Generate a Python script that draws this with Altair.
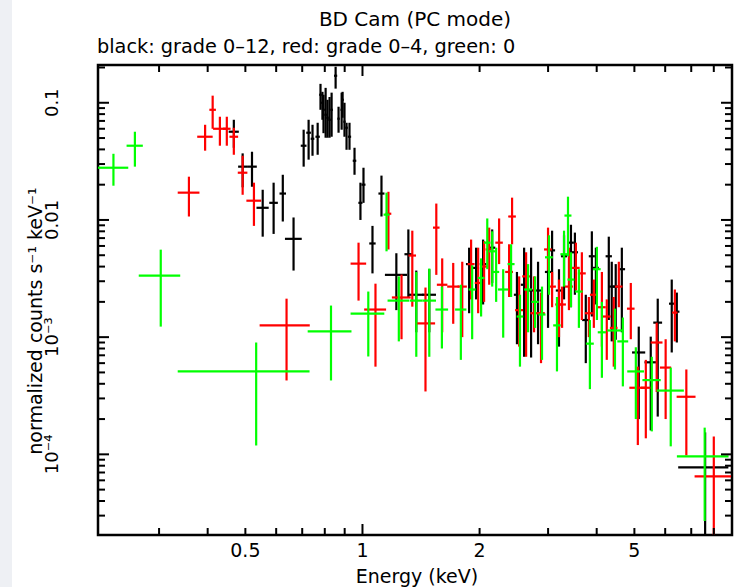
import altair as alt
import pandas as pd

# ---------------- data ----------------
black_e = [0.467, 0.492, 0.52, 0.554, 0.591, 0.624, 0.665, 0.706, 0.727, 0.744, 0.767,
           0.78, 0.789, 0.794, 0.804, 0.813, 0.823, 0.833, 0.853, 0.868, 0.884, 0.889,
           0.899, 0.91, 0.926, 0.954, 0.988, 1.006, 1.061, 1.119, 1.222, 1.312, 1.375,
           1.485, 1.88, 1.959, 2.042, 2.155, 2.495, 2.603, 2.713, 2.827, 2.999, 3.072,
           3.2, 3.297, 3.435, 3.516, 3.75, 3.887, 3.981, 4.297, 4.373, 4.477, 4.642,
           5.131, 5.508, 5.741, 6.237, 6.427, 7.6]
black_de = [0.014, 0.013, 0.015, 0.02, 0.015, 0.012, 0.033, 0.012, 0.01, 0.008, 0.01,
            0.006, 0.006, 0.006, 0.006, 0.006, 0.006, 0.006, 0.008, 0.006, 0.006, 0.006,
            0.006, 0.007, 0.009, 0.01, 0.012, 0.012, 0.02, 0.02, 0.08, 0.03, 0.06,
            0.06, 0.035, 0.035, 0.04, 0.04, 0.045, 0.05, 0.05, 0.05, 0.055, 0.055,
            0.06, 0.06, 0.06, 0.065, 0.08, 0.07, 0.07, 0.08, 0.08, 0.08, 0.09,
            0.2, 0.2, 0.15, 0.1, 0.1, 1.12]
black_y = [0.0566, 0.0285, 0.0285, 0.0127, 0.014, 0.0168, 0.0069, 0.043, 0.0555, 0.0493, 0.0513,
           0.117, 0.1, 0.0871, 0.079, 0.0745, 0.0716, 0.0871, 0.17, 0.0731, 0.0871, 0.106,
           0.0689, 0.0612, 0.0513, 0.032, 0.014, 0.02, 0.0063, 0.0168, 0.0034, 0.0051, 0.0023,
           0.0023, 0.0042, 0.0039, 0.0042, 0.0058, 0.0023, 0.0028, 0.0025, 0.0025, 0.0036, 0.0055,
           0.0025, 0.0049, 0.0064, 0.0053, 0.0014, 0.0049, 0.0039, 0.0049, 0.0027, 0.0027, 0.0038,
           0.00074, 0.00061, 0.00133, 0.00193, 0.00165, 0.0000773]
black_lo = [0.0413, 0.019, 0.0192, 0.0072, 0.0076, 0.0097, 0.0037, 0.0285, 0.0327, 0.0353, 0.036,
            0.0871, 0.0716, 0.055, 0.0503, 0.0503, 0.0503, 0.0513, 0.132, 0.0555, 0.0589, 0.0745,
            0.0513, 0.0397, 0.0397, 0.0243, 0.01, 0.014, 0.0035, 0.0107, 0.0017, 0.0022, 0.0011,
            0.0011, 0.0016, 0.0021, 0.0019, 0.0029, 0.00087, 0.00068, 0.00067, 0.00087, 0.0012, 0.0028,
            0.00083, 0.0021, 0.0018, 0.0023, 0.0006, 0.0015, 0.0019, 0.0014, 0.00092, 0.00095, 0.0011,
            0.0002, 0.00016, 0.00021, 0.00074, 0.0009, 0.00001]
black_hi = [0.0716, 0.037, 0.0382, 0.0181, 0.0208, 0.0243, 0.0105, 0.0589, 0.0716, 0.0649, 0.0675,
            0.145, 0.124, 0.117, 0.134, 0.106, 0.112, 0.122, 0.203, 0.0925, 0.122, 0.124,
            0.1, 0.0675, 0.0675, 0.0413, 0.0208, 0.0279, 0.0089, 0.0239, 0.0052, 0.0083, 0.0037,
            0.0038, 0.0058, 0.0058, 0.0068, 0.0083, 0.0036, 0.0058, 0.0058, 0.0044, 0.0056, 0.0081,
            0.0038, 0.0074, 0.0091, 0.0078, 0.0023, 0.008, 0.0058, 0.0072, 0.0044, 0.0042, 0.0058,
            0.00123, 0.00101, 0.00213, 0.0031, 0.0024, 0.000154]

red_e = [0.358, 0.394, 0.412, 0.43, 0.448, 0.467, 0.492, 0.526, 0.638, 0.977, 1.08,
         1.166, 1.26, 1.343, 1.452, 1.548, 1.603, 1.711, 1.805, 1.902, 1.983, 2.054,
         2.117, 2.245, 2.382, 2.424, 2.528, 2.634, 2.761, 2.877, 2.999, 3.072, 3.2,
         3.259, 3.394, 3.537, 3.664, 3.819, 3.933, 4.125, 4.246, 4.425, 4.56, 4.895,
         5.103, 5.35, 5.705, 6.016, 6.353, 6.8, 8.0]
red_de = [0.023, 0.018, 0.008, 0.017, 0.01, 0.012, 0.014, 0.023, 0.094, 0.045, 0.07,
          0.02, 0.07, 0.03, 0.085, 0.03, 0.05, 0.06, 0.05, 0.04, 0.04, 0.045,
          0.045, 0.05, 0.055, 0.055, 0.06, 0.06, 0.06, 0.065, 0.07, 0.07, 0.07,
          0.075, 0.08, 0.08, 0.085, 0.09, 0.09, 0.095, 0.1, 0.1, 0.1, 0.11,
          0.25, 0.15, 0.2, 0.2, 0.1, 0.38, 0.86]
red_y = [0.0171, 0.0513, 0.0871, 0.06, 0.06, 0.0513, 0.0253, 0.0146, 0.00126, 0.00424, 0.00172,
         0.0113, 0.00218, 0.00497, 0.00131, 0.0086, 0.0028, 0.0027, 0.0027, 0.0042, 0.0029, 0.004,
         0.0056, 0.0064, 0.0036, 0.0107, 0.0017, 0.0033, 0.0016, 0.0016, 0.0056, 0.0027, 0.0019,
         0.0019, 0.0027, 0.0039, 0.0035, 0.0016, 0.0023, 0.0018, 0.0015, 0.0012, 0.0027, 0.00175,
         0.00037, 0.00037, 0.0009, 0.00055, 0.00162, 0.00031, 0.0000648]
red_lo = [0.0107, 0.039, 0.06, 0.043, 0.043, 0.036, 0.0164, 0.0089, 0.000427, 0.00205, 0.00056,
          0.0056, 0.00096, 0.00182, 0.000344, 0.0034, 0.0011, 0.0013, 0.001, 0.0021, 0.0016, 0.002,
          0.0028, 0.0042, 0.0022, 0.0062, 0.00083, 0.00068, 0.0011, 0.0006, 0.0037, 0.0018, 0.001,
          0.0012, 0.0017, 0.0025, 0.0014, 0.001, 0.0012, 0.00083, 0.00064, 0.00056, 0.0018, 0.00096,
          0.00012, 0.000137, 0.00034, 0.0002, 0.00092, 0.000098, 0.00001]
red_hi = [0.0234, 0.0649, 0.115, 0.076, 0.076, 0.0612, 0.0353, 0.0208, 0.00213, 0.0064, 0.00286,
          0.0174, 0.00342, 0.0081, 0.00265, 0.0138, 0.0047, 0.0043, 0.0044, 0.0068, 0.0058, 0.0066,
          0.0086, 0.0103, 0.0062, 0.0155, 0.0033, 0.0053, 0.0033, 0.0024, 0.0086, 0.0036, 0.0031,
          0.0027, 0.0058, 0.0064, 0.0053, 0.0022, 0.0031, 0.0036, 0.0021, 0.0022, 0.0044, 0.0029,
          0.00056, 0.00064, 0.00133, 0.00096, 0.00255, 0.00053, 0.000142]

green_e = [0.229, 0.26, 0.303, 0.533, 0.83, 1.035, 1.153, 1.24, 1.375, 1.485, 1.6,
           1.79, 1.914, 2.018, 2.093, 2.155, 2.206, 2.30, 2.41, 2.54, 2.665, 2.778,
           2.894, 3.016, 3.162, 3.297, 3.375, 3.435, 3.6, 3.842, 4.005, 4.125, 4.457,
           4.67, 5.043, 5.543, 6.2, 7.58]
green_de = [0.021, 0.0125, 0.037, 0.198, 0.107, 0.103, 0.02, 0.08, 0.05, 0.06, 0.06,
            0.06, 0.04, 0.04, 0.04, 0.04, 0.04, 0.07, 0.05, 0.05, 0.06, 0.06,
            0.06, 0.07, 0.07, 0.07, 0.07, 0.07, 0.08, 0.09, 0.09, 0.1, 0.2,
            0.15, 0.25, 0.3, 0.5, 1.15]
green_y = [0.0279, 0.043, 0.00335, 0.00051, 0.00112, 0.00159, 0.0111, 0.00205, 0.00205, 0.00205, 0.00172,
           0.00172, 0.00255, 0.0032, 0.0064, 0.0054, 0.0036, 0.00255, 0.0042, 0.0015, 0.00255, 0.002,
           0.00156, 0.0048, 0.00126, 0.0051, 0.0109, 0.0031, 0.00245, 0.00088, 0.0038, 0.0011, 0.00114,
           0.00092, 0.00051, 0.00043, 0.00035, 0.000096]
green_lo = [0.0196, 0.0285, 0.00123, 0.000119, 0.000427, 0.000684, 0.0054, 0.00092, 0.00068, 0.00068, 0.0008,
            0.00064, 0.00096, 0.0015, 0.0038, 0.0027, 0.002, 0.00099, 0.0022, 0.00056, 0.0011, 0.0012,
            0.00064, 0.0023, 0.00051, 0.0027, 0.0049, 0.0018, 0.0012, 0.00036, 0.0014, 0.00045, 0.00053,
            0.00038, 0.0002, 0.000157, 0.000117, 0.000027]
green_hi = [0.0367, 0.0566, 0.00558, 0.0009, 0.00186, 0.00245, 0.0171, 0.0033, 0.0036, 0.00385, 0.0027,
            0.0028, 0.0041, 0.0047, 0.0103, 0.008, 0.0058, 0.0038, 0.0062, 0.0023, 0.0042, 0.0033,
            0.0027, 0.0074, 0.0022, 0.0081, 0.0158, 0.0053, 0.0038, 0.0014, 0.0059, 0.002, 0.00175,
            0.00147, 0.00082, 0.00068, 0.00055, 0.000169]

groups = ["grade 0-12", "grade 0-4", "grade 0"]
colors = ["#000000", "#ff0000", "#00ff00"]

x_label_values = [0.5, 1, 2, 5]
x_label_texts = ["0.5", "1", "2", "5"]
x_major_ticks = [1]
x_minor_ticks = [0.3, 0.4, 0.5, 0.6, 0.7, 0.8, 0.9, 2, 3, 4, 5, 6, 7, 8]
y_label_values = [0.0001, 0.001, 0.01, 0.1]
y_label_texts = ["10⁻⁴", "10⁻³", "0.01", "0.1"]
y_major_ticks = [0.0001, 0.001, 0.01, 0.1]
y_minor_ticks = [m * 10.0 ** k for k in (-5, -4, -3, -2, -1) for m in range(2, 10)
                 if 2.1e-5 < m * 10.0 ** k < 0.21]

title_text = ["BD Cam (PC mode)"]
subtitle_text = ["black: grade 0\u201312, red: grade 0\u20134, green: 0"]
x_title = ["Energy (keV)"]
y_title = ["normalized counts s\u207b\u00b9 keV\u207b\u00b9"]

# ---------------- layout ----------------
W, H = 634, 470
FONT = "DejaVu Sans"
FS = 19
LW = 2.2

series = [
    (groups[0], black_e, black_de, black_y, black_lo, black_hi),
    (groups[1], red_e, red_de, red_y, red_lo, red_hi),
    (groups[2], green_e, green_de, green_y, green_lo, green_hi),
]
frames = []
for g, e, de, y, lo, hi in series:
    frames.append(pd.DataFrame({"grade": g, "E": e, "dE": de, "rate": y, "lo": lo, "hi": hi}))
df = pd.concat(frames, ignore_index=True)

xs = alt.Scale(type="log", domain=[0.209, 8.91], nice=False)
ys = alt.Scale(type="log", domain=[2.05e-5, 0.21], nice=False)
cs = alt.Scale(domain=groups, range=colors)

layers = []
for g in groups:
    base = alt.Chart(df).transform_filter(alt.datum.grade == g).transform_calculate(
        elo="datum.E - datum.dE", ehi="datum.E + datum.dE")
    vert = base.mark_rule(strokeWidth=LW, clip=True).encode(
        x=alt.X("E:Q", scale=xs, axis=None),
        y=alt.Y("lo:Q", scale=ys, axis=None),
        y2="hi:Q",
        color=alt.Color("grade:N", scale=cs, legend=None),
    )
    horiz = base.mark_rule(strokeWidth=LW, clip=True).encode(
        x=alt.X("elo:Q", scale=xs, axis=None),
        x2="ehi:Q",
        y=alt.Y("rate:Q", scale=ys, axis=None),
        color=alt.Color("grade:N", scale=cs, legend=None),
    )
    layers += [vert, horiz]

# inward ticks on all four sides
xmaj = alt.Chart(pd.DataFrame({"v": x_major_ticks}))
xmin = alt.Chart(pd.DataFrame({"v": x_minor_ticks}))
ymaj = alt.Chart(pd.DataFrame({"v": y_major_ticks}))
ymin = alt.Chart(pd.DataFrame({"v": y_minor_ticks}))
tk = dict(color="black", strokeWidth=2)
tick_layers = [
    xmaj.mark_rule(**tk).encode(x=alt.X("v:Q", scale=xs, axis=None), y=alt.value(H), y2=alt.value(H - 11)),
    xmaj.mark_rule(**tk).encode(x=alt.X("v:Q", scale=xs, axis=None), y=alt.value(0), y2=alt.value(11)),
    xmin.mark_rule(**tk).encode(x=alt.X("v:Q", scale=xs, axis=None), y=alt.value(H), y2=alt.value(H - 7)),
    xmin.mark_rule(**tk).encode(x=alt.X("v:Q", scale=xs, axis=None), y=alt.value(0), y2=alt.value(7)),
    ymaj.mark_rule(**tk).encode(y=alt.Y("v:Q", scale=ys, axis=None), x=alt.value(0), x2=alt.value(11)),
    ymaj.mark_rule(**tk).encode(y=alt.Y("v:Q", scale=ys, axis=None), x=alt.value(W), x2=alt.value(W - 11)),
    ymin.mark_rule(**tk).encode(y=alt.Y("v:Q", scale=ys, axis=None), x=alt.value(0), x2=alt.value(7)),
    ymin.mark_rule(**tk).encode(y=alt.Y("v:Q", scale=ys, axis=None), x=alt.value(W), x2=alt.value(W - 7)),
]

txt = dict(font=FONT, fontSize=FS, color="black")
x_labels = alt.Chart(pd.DataFrame({"v": x_label_values, "t": x_label_texts})).mark_text(
    align="center", baseline="middle", **txt).encode(
    x=alt.X("v:Q", scale=xs, axis=None), y=alt.value(H + 16), text="t:N")
y_labels = alt.Chart(pd.DataFrame({"v": y_label_values, "t": y_label_texts})).mark_text(
    align="center", baseline="middle", angle=270, font=FONT, fontSize=18, color="black").encode(
    y=alt.Y("v:Q", scale=ys, axis=None), x=alt.value(-45), text="t:N")
x_title_layer = alt.Chart(pd.DataFrame({"t": x_title})).mark_text(
    align="center", baseline="middle", **txt).encode(
    text="t:N", x=alt.value(W / 2 + 2), y=alt.value(H + 42))
y_title_layer = alt.Chart(pd.DataFrame({"t": y_title})).mark_text(
    align="center", baseline="middle", angle=270, **txt).encode(
    text="t:N", x=alt.value(-62), y=alt.value(256))

title_layer = alt.Chart(pd.DataFrame({"t": title_text})).mark_text(
    font=FONT, fontSize=20, color="black", align="center", baseline="middle").encode(
    text="t:N", x=alt.value(W / 2), y=alt.value(-45))
subtitle_layer = alt.Chart(pd.DataFrame({"t": subtitle_text})).mark_text(
    font=FONT, fontSize=19.3, color="black", align="left", baseline="middle").encode(
    text="t:N", x=alt.value(-1), y=alt.value(-18))
strip = alt.Chart(pd.DataFrame({"a": [0]})).mark_rect(color="#eef0f4").encode(
    x=alt.value(-98), x2=alt.value(-86), y=alt.value(-65), y2=alt.value(H + 52))

chart = alt.layer(*layers, *tick_layers, x_labels, y_labels, x_title_layer, y_title_layer,
                  title_layer, subtitle_layer, strip).properties(
    width=W, height=H,
    autosize=alt.AutoSizeParams(type="none"),
    padding={"left": 98, "top": 65, "right": 15, "bottom": 52},
    background="white",
).configure(font=FONT).configure_view(stroke="black", strokeWidth=2.5)

chart.save("out.html", embed_options={"renderer": "svg", "actions": False})
